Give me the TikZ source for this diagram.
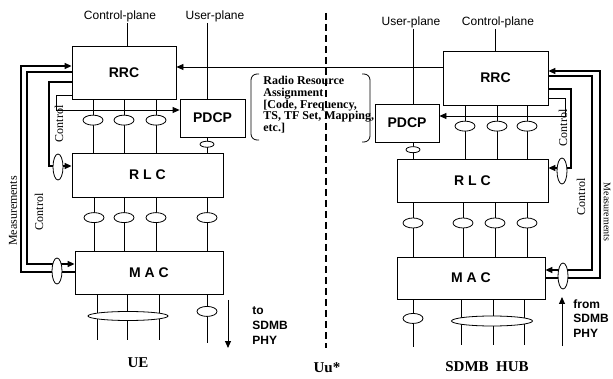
\documentclass[tikz,border=0pt]{standalone}
\usepackage{fontspec}
\setmainfont{Liberation Serif}
\setsansfont{Liberation Sans}
\usetikzlibrary{arrows.meta,shapes.geometric}

\tikzset{
  layer/.style={draw,line width=0.8,fill=white,inner sep=0,
    font=\sffamily\bfseries\fontsize{14}{16}\selectfont},
  plane/.style={inner sep=1,font=\sffamily\fontsize{12}{14}\selectfont},
  sap/.style={ellipse,draw,fill=white,line width=0.8,inner sep=0,
    minimum width=20,minimum height=10},
  sapsmall/.style={sap,minimum width=14,minimum height=6},
  sapv/.style={sap,minimum width=10,minimum height=26},
  bigsap/.style={sap,minimum width=80,minimum height=9},
  ctrl/.style={line width=1.4},
  rot/.style={inner sep=0,font=\fontsize{12}{12}\selectfont},
  phy/.style={inner sep=0,align=left,anchor=north west,
    font=\sffamily\bfseries\fontsize{12}{15}\selectfont},
  site/.style={font=\bfseries\fontsize{15}{15}\selectfont}
}

\begin{document}
\begin{tikzpicture}[x=1pt,y=-1pt,line width=0.8,>={Triangle[length=7pt,width=6pt]}]
\useasboundingbox (0,0) rectangle (613,379);

% UE
\node[layer,minimum width=104,minimum height=53] (rrcL) at (124,72.5) {RRC};
\node[layer,minimum width=65,minimum height=38] (pdcpL) at (212.5,118) {PDCP};
\node[layer,minimum width=151,minimum height=44] (rlcL) at (147.5,175) {R L C};
\node[layer,minimum width=148,minimum height=43] (macL) at (149,272.5) {M A C};

% SDMB HUB
\node[layer,minimum width=105,minimum height=54] (rrcR) at (495.5,78) {RRC};
\node[layer,minimum width=64,minimum height=38] (pdcpR) at (407,123) {PDCP};
\node[layer,minimum width=151,minimum height=43] (rlcR) at (472.5,180.5) {R L C};
\node[layer,minimum width=148,minimum height=42] (macR) at (471,278) {M A C};

% planes
\node[plane] (cpL) at (120,16) {Control-plane};
\node[plane] (upL) at (215,16) {User-plane};
\node[plane] (upR) at (411,22) {User-plane};
\node[plane] (cpR) at (498,22) {Control-plane};
\draw (cpL.south -| 127,0) -- (rrcL.north -| 127,0);
\draw (upL.south -| 207,0) -- (pdcpL.north -| 207,0);
\draw (upR.south -| 413,0) -- (pdcpR.north -| 413,0);
\draw (cpR.south -| 495,0) -- (rrcR.north -| 495,0);

% channels between the layers
\foreach \x in {93,124,156}
  \draw (rrcL.south -| \x,0) -- node[sap,pos=.39] (saL\x) {} (rlcL.north -| \x,0);
\foreach \x in {465,497,527}
  \draw (rrcR.south -| \x,0) -- node[sap,pos=.39] (saR\x) {} (rlcR.north -| \x,0);
\draw (pdcpL.south -| 207,0) -- node[sapsmall,pos=.45] (spL) {} (rlcL.north -| 207,0);
\draw (pdcpR.south -| 413,0) -- node[sapsmall,pos=.45] (spR) {} (rlcR.north -| 413,0);
\foreach \x in {94,124,156,207}
  \draw (rlcL.south -| \x,0) -- node[sap,pos=.38] (sbL\x) {} (macL.north -| \x,0);
\foreach \x in {413,463,495,527}
  \draw (rlcR.south -| \x,0) -- node[sap,pos=.38] (sbR\x) {} (macR.north -| \x,0);

% transport channels
\coordinate (endL) at (0,340);
\coordinate (endR) at (0,345);
\foreach \x in {97,127,159}
  \draw (macL.south -| \x,0) -- (endL -| \x,0);
\foreach \x in {461,493,524}
  \draw (macR.south -| \x,0) -- (endR -| \x,0);
\node[bigsap] (trL) at (128,316) {};
\node[bigsap,minimum width=81,minimum height=10] (trR) at (492,321) {};
\draw (macL.south -| 207,0) -- node[sap,pos=.35] (scL) {} (207,343);
\draw (macR.south -| 413,0) -- node[sap,pos=.4] (scR) {} (413,347);

% control and measurement loops, UE
\coordinate (mLt) at (21,66);
\coordinate (mLb) at (21,272);
\coordinate (cLt) at (27,72);
\coordinate (cLb) at (27,264);
\coordinate (rLt) at (49,82);
\coordinate (rLb) at (49,166);
\coordinate (pLt) at (56,95);
\coordinate (pLb) at (56,110);
\draw[ctrl,->] (macL.west |- mLb) -- (mLb) -- (mLt) -- (rrcL.west |- mLt);
\draw[ctrl,->] (rrcL.west |- cLt) -- (cLt) -- (cLb) -- (macL.west |- cLb);
\draw[ctrl,->] (rrcL.west |- rLt) -- (rLt) -- (rLb) -- (rlcL.west |- rLb);
\draw[->] (rrcL.west |- pLt) -- (pLt) -- (pLb) -- (pdcpL.west |- pLb);
\node[sapv] (oLr) at (58,167) {};
\node[sapv] (oLm) at (57,271) {};

% control and measurement loops, hub
\coordinate (mRt) at (600,71);
\coordinate (mRb) at (600,278);
\coordinate (cRt) at (592,76);
\coordinate (cRb) at (592,270);
\coordinate (rRt) at (571,89);
\coordinate (rRb) at (571,168);
\coordinate (pRt) at (565,98);
\coordinate (pRb) at (565,116);
\draw[ctrl,->] (macR.east |- mRb) -- (mRb) -- (mRt) -- (rrcR.east |- mRt);
\draw[ctrl,->] (rrcR.east |- cRt) -- (cRt) -- (cRb) -- (macR.east |- cRb);
\draw[ctrl,->] (rrcR.east |- rRt) -- (rRt) -- (rRb) -- (rlcR.east |- rRb);
\draw[->] (rrcR.east |- pRt) -- (pRt) -- (pRb) -- (pdcpR.east |- pRb);
\node[sapv] (oRr) at (562,171) {};
\node[sapv] (oRm) at (563,276) {};

\node[rot,rotate=90] (ctlA) at (59,124) {Control};
\node[rot,rotate=90] (measL) at (13,211) {Measurements};
\node[rot,rotate=90] (ctlB) at (39,212) {Control};
\node[rot,rotate=90] (ctlC) at (563,128) {Control};
\node[rot,rotate=90] (ctlD) at (581,197) {Control};
\node[rot,rotate=-90,font=\fontsize{10}{10}\selectfont] (measR) at (607,212) {Measurements};

% radio resource assignment
\coordinate (assg) at (326,67);
\draw[->] (rrcR.west |- assg) -- (rrcL.east |- assg);
\node[inner sep=0,align=left,anchor=north west,
  font=\bfseries\fontsize{12}{11.7}\selectfont] (rra) at (263,76)
  {Radio Resource\\Assignment\\{}[Code, Frequency,\\TS, TF Set, Mapping,\\etc.]};
\draw[rounded corners=6] (259,74) -| (251,140) -- (259,140);
\draw[rounded corners=6] (362,74) -| (370,142) -- (362,142);

% air interface
\coordinate (uuT) at (326,13);
\coordinate (uuB) at (326,348);
\draw[line width=2,dash pattern=on 7 off 4] (uuT) -- (uuB);

% to / from the physical layer
\coordinate (toT) at (228,300);
\coordinate (toB) at (228,348);
\draw[->,line width=1] (toT) -- (toB);
\node[phy] (toL) at (252,306) {to\\SDMB\\PHY};
\coordinate (fromB) at (562,346);
\coordinate (fromT) at (562,297);
\draw[->,line width=1] (fromB) -- (fromT);
\node[phy,font=\sffamily\bfseries\fontsize{12}{14.5}\selectfont] (fromR) at (573,299) {from\\SDMB\\PHY};

\node[site] (ue) at (138,363) {UE};
\node[site] (uu) at (327,368) {Uu*};
\node[site] (hub) at (487,367) {SDMB\ \ HUB};
\end{tikzpicture}
\end{document}
